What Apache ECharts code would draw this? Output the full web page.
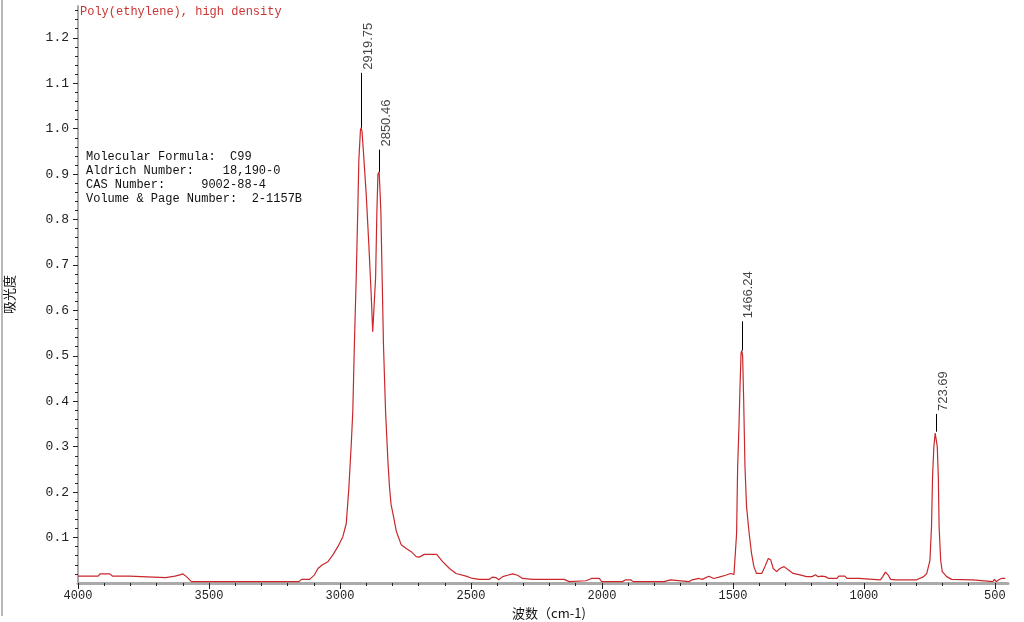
<!DOCTYPE html>
<html>
<head>
<meta charset="utf-8">
<title>Poly(ethylene), high density</title>
<script src="https://cdn.jsdelivr.net/npm/echarts@6/dist/echarts.min.js"></script>
<style>
  html, body { margin: 0; padding: 0; background: #fff; }
  #chart { width: 1024px; height: 622px; }
</style>
</head>
<body>
<div id="chart"></div>
<script>
// spectrum: wavenumber (cm-1) and absorbance
const wavenumbers = [
  4000, 3923, 3916, 3878, 3868, 3804, 3799, 3665, 3660, 3630, 3623, 3611, 3599, 3586, 3567,
  3156, 3147, 3116, 3097, 3084, 3067, 3046, 3027, 3008, 2989, 2976, 2966, 2957, 2951, 2945,
  2938, 2932, 2928, 2922, 2919.75, 2916, 2910, 2900, 2890, 2881, 2875, 2871, 2864, 2859, 2855,
  2850.46, 2844, 2839, 2834, 2826, 2817, 2811, 2805, 2798, 2785, 2766, 2747, 2728, 2709, 2697,
  2678, 2659, 2631, 2608, 2582, 2557, 2519, 2494, 2468, 2430, 2417, 2405, 2394, 2379, 2360,
  2341, 2322, 2303, 2265, 2214, 2144, 2125, 2061, 2040, 2010, 2001, 1922, 1909, 1890, 1881,
  1763, 1757, 1738, 1731, 1668, 1655, 1630, 1617, 1592, 1573, 1553, 1528, 1509, 1503, 1496,
  1492, 1488.5, 1486, 1482, 1477, 1473, 1469, 1466.24, 1463, 1459, 1454, 1448, 1438, 1429, 1420,
  1410, 1390, 1378, 1365, 1356, 1346, 1333, 1321, 1305, 1289, 1270, 1244, 1219, 1198, 1185,
  1175, 1160, 1147, 1134, 1103, 1096, 1073, 1064, 1020, 1013, 937, 928, 918, 908, 898,
  879, 798, 772, 760, 755, 748, 742, 738, 733, 728, 723.69, 720, 716, 713, 707,
  701, 684, 665, 585, 578, 508, 502, 495, 485, 475, 460
];
const absorbance = [
  0.015, 0.015, 0.020, 0.020, 0.015, 0.015, 0.012, 0.012, 0.015, 0.015, 0.012, 0.018, 0.020, 0.014, 0.003,
  0.003, 0.008, 0.008, 0.018, 0.032, 0.040, 0.047, 0.062, 0.080, 0.102, 0.131, 0.210, 0.305, 0.378, 0.525,
  0.672, 0.820, 0.930, 0.996, 1.002, 0.995, 0.945, 0.857, 0.747, 0.637, 0.553, 0.557, 0.672, 0.820, 0.900,
  0.905, 0.820, 0.672, 0.525, 0.378, 0.268, 0.212, 0.173, 0.153, 0.114, 0.084, 0.076, 0.069, 0.058, 0.057,
  0.063, 0.063, 0.063, 0.047, 0.032, 0.021, 0.015, 0.010, 0.008, 0.008, 0.013, 0.012, 0.007, 0.014, 0.017,
  0.020, 0.017, 0.010, 0.008, 0.008, 0.008, 0.003, 0.005, 0.010, 0.010, 0.003, 0.003, 0.007, 0.007, 0.003,
  0.003, 0.007, 0.007, 0.003, 0.003, 0.007, 0.010, 0.008, 0.015, 0.010, 0.013, 0.017, 0.021, 0.025, 0.019,
  0.020, 0.020, 0.109, 0.256, 0.344, 0.432, 0.506, 0.512, 0.500, 0.403, 0.256, 0.168, 0.109, 0.065, 0.036,
  0.021, 0.021, 0.036, 0.054, 0.051, 0.032, 0.025, 0.032, 0.036, 0.029, 0.021, 0.018, 0.014, 0.014, 0.018,
  0.014, 0.015, 0.014, 0.010, 0.010, 0.015, 0.015, 0.010, 0.010, 0.007, 0.007, 0.014, 0.024, 0.018, 0.008,
  0.007, 0.007, 0.014, 0.021, 0.025, 0.050, 0.124, 0.234, 0.300, 0.330, 0.333, 0.300, 0.234, 0.124, 0.050,
  0.025, 0.014, 0.008, 0.007, 0.003, 0.003, 0.008, 0.003, 0.007, 0.010, 0.010
];

// peak markers
const peakWn = [2919.75, 2850.46, 1466.24, 723.69];
const peakAbs = [1.002, 0.905, 0.512, 0.333];
const peakTop = [1.123, 0.954, 0.576, 0.372];
const peakText = ['2919.75', '2850.46', '1466.24', '723.69'];

// axis ticks
const xLabels = [500, 1000, 1500, 2000, 2500, 3000, 3500, 4000];
const xMinor = [];
for (let v = 500; v <= 4000; v += 100) xMinor.push(v);
const yLabels = [0.1, 0.2, 0.3, 0.4, 0.5, 0.6, 0.7, 0.8, 0.9, 1.0, 1.1, 1.2];
const yMinor = [];
for (let i = 1; i <= 63; i++) yMinor.push(+(i * 0.02).toFixed(2));

const infoLines = [
  'Molecular Formula:  C99',
  'Aldrich Number:    18,190-0',
  'CAS Number:     9002-88-4',
  'Volume & Page Number:  2-1157B'
];

const chart = echarts.init(document.getElementById('chart'));

const gridBox = { left: 78, right: 16, top: 6, bottom: 39, outerBoundsMode: 'none' };
const xMin = 450, xMax = 4000;
const yMin = 0, yMax = 1.27;
const monoFont = 'Liberation Mono';

chart.setOption({
  backgroundColor: '#fff',
  animation: false,
  title: [
    {
      text: 'Poly(ethylene), high density',
      left: 80,
      top: 6,
      padding: 0,
      textStyle: { fontFamily: monoFont, fontSize: 12, fontWeight: 'normal', color: '#cc3333' }
    },
    {
      text: infoLines.join('\n'),
      left: 86,
      top: 150,
      padding: 0,
      textStyle: { fontFamily: monoFont, fontSize: 12, fontWeight: 'normal', color: '#111', lineHeight: 14 }
    }
  ],
  graphic: [
    { type: 'line', shape: { x1: 2, y1: 0, x2: 2, y2: 616 }, style: { stroke: '#b8b8b8', lineWidth: 2 } }
  ],
  grid: [
    Object.assign({}, gridBox),
    Object.assign({}, gridBox)
  ],
  xAxis: [
    {
      type: 'value',
      gridIndex: 0,
      inverse: true,
      min: xMin,
      max: xMax,
      name: '波数（cm-1)',
      nameLocation: 'middle',
      nameGap: 19,
      nameTextStyle: { fontFamily: 'Noto Sans CJK SC', fontSize: 13, color: '#111', padding: [0, 0, 0, 12] },
      axisLine: { show: true, lineStyle: { color: '#aaaaaa', width: 3 } },
      axisTick: { show: true, customValues: xLabels, length: 6, lineStyle: { color: '#222', width: 1 } },
      axisLabel: {
        customValues: xLabels,
        margin: 7,
        fontFamily: monoFont,
        fontSize: 12,
        color: '#222',
        formatter: v => String(v)
      },
      splitLine: { show: false }
    },
    {
      type: 'value',
      gridIndex: 1,
      inverse: true,
      min: xMin,
      max: xMax,
      axisLine: { show: false },
      axisTick: { show: true, customValues: xMinor, length: 3, lineStyle: { color: '#222', width: 1 } },
      axisLabel: { show: false },
      splitLine: { show: false }
    }
  ],
  yAxis: [
    {
      type: 'value',
      gridIndex: 0,
      min: yMin,
      max: yMax,
      name: '吸光度',
      nameLocation: 'middle',
      nameGap: 62,
      nameTextStyle: { fontFamily: 'Noto Sans CJK SC', fontSize: 13, color: '#111' },
      axisLine: { show: true, lineStyle: { color: '#aaaaaa', width: 2 } },
      axisTick: { show: true, customValues: yLabels, length: 5, lineStyle: { color: '#222', width: 1 } },
      axisLabel: {
        customValues: yLabels,
        margin: 9,
        fontFamily: monoFont,
        fontSize: 13,
        color: '#222',
        formatter: v => v.toFixed(1)
      },
      splitLine: { show: false }
    },
    {
      type: 'value',
      gridIndex: 1,
      min: yMin,
      max: yMax,
      axisLine: { show: false },
      axisTick: { show: true, customValues: yMinor, length: 3, lineStyle: { color: '#222', width: 1 } },
      axisLabel: { show: false },
      splitLine: { show: false }
    }
  ],
  series: [
    {
      name: 'spectrum',
      type: 'line',
      xAxisIndex: 0,
      yAxisIndex: 0,
      showSymbol: false,
      silent: true,
      lineStyle: { color: '#c8282c', width: 1.2 },
      data: wavenumbers.map((w, i) => [w, absorbance[i]])
    },
    {
      name: 'peaks',
      type: 'scatter',
      xAxisIndex: 0,
      yAxisIndex: 0,
      symbolSize: 0,
      silent: true,
      data: peakWn.map((w, i) => ({ value: [w, peakTop[i]], name: peakText[i] })),
      label: {
        show: true,
        formatter: '{b}',
        position: 'top',
        distance: 3,
        rotate: 90,
        align: 'left',
        verticalAlign: 'middle',
        offset: [0, 7],
        fontFamily: 'Liberation Sans',
        fontSize: 13,
        color: '#111'
      },
      markLine: {
        silent: true,
        symbol: ['none', 'none'],
        label: { show: false },
        lineStyle: { color: '#000', width: 1, type: 'solid' },
        data: peakWn.map((w, i) => [{ coord: [w, peakAbs[i]] }, { coord: [w, peakTop[i]] }])
      }
    }
  ]
});
</script>
</body>
</html>
